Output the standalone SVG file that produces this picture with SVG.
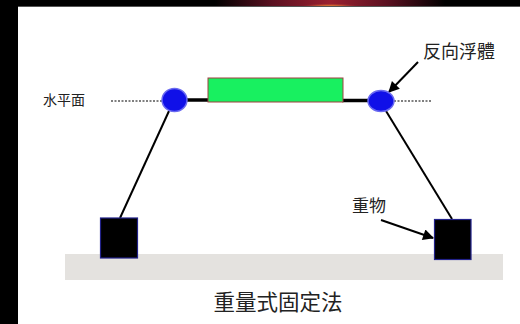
<svg xmlns="http://www.w3.org/2000/svg" width="520" height="324" viewBox="0 0 520 324">
<defs>
<style>
.t{font-family:"Noto Sans CJK TC","Noto Sans CJK SC",sans-serif;fill:#222}
.rope{stroke:#000;stroke-width:2;fill:none}
.bar{stroke:#000;stroke-width:3.5;fill:none}
.dot{stroke:#555;stroke-width:1.5;stroke-dasharray:2 1.5;fill:none}
.float{fill:#1010e8;stroke:#6a6af0;stroke-width:1.5}
.weight{fill:#000;stroke:#22228a;stroke-width:1.2}
.ptr{stroke:#000;stroke-width:2;fill:none;marker-end:url(#ah)}
</style>
<marker id="ah" viewBox="0 0 10 10" refX="9" refY="5" markerWidth="13" markerHeight="11" orient="auto" markerUnits="userSpaceOnUse">
<path d="M0,0 L10,5 L0,10 z" fill="#000"/>
</marker>
<linearGradient id="red" x1="0" y1="0" x2="1" y2="0">
<stop offset="0" stop-color="#000"/>
<stop offset="0.25" stop-color="#5a1020"/>
<stop offset="0.5" stop-color="#9a2030"/>
<stop offset="0.75" stop-color="#5a1020"/>
<stop offset="1" stop-color="#000"/>
</linearGradient>
<radialGradient id="glow" cx="0.5" cy="1" r="0.5">
<stop offset="0" stop-color="#f5a030" stop-opacity="1"/>
<stop offset="0.5" stop-color="#d06030" stop-opacity="0.7"/>
<stop offset="1" stop-color="#9a2030" stop-opacity="0"/>
</radialGradient>
</defs>
<rect x="0" y="0" width="520" height="324" fill="#fff"/>
<rect x="0" y="0" width="18" height="324" fill="#000"/>
<rect x="0" y="0" width="520" height="6.5" fill="#000"/>
<rect x="215" y="0" width="230" height="6.5" fill="url(#red)"/>
<rect x="300" y="0" width="60" height="6.5" fill="url(#glow)"/>
<rect x="18" y="6" width="502" height="1" fill="#555"/>

<g id="ground"><rect x="65" y="254" width="438" height="26" fill="#e4e2df"/></g>

<g id="connectors">
<line class="dot" x1="111" y1="101" x2="162" y2="101"/>
<line class="dot" x1="394" y1="101" x2="431" y2="101"/>
<line class="bar" x1="186" y1="100" x2="209" y2="100"/>
<line class="bar" x1="342" y1="100.5" x2="369" y2="100.5"/>
<line class="rope" x1="169" y1="111" x2="120" y2="218"/>
<line class="rope" x1="386" y1="111" x2="452" y2="219"/>
<line class="ptr" x1="418" y1="62" x2="389" y2="92"/>
<line class="ptr" x1="381" y1="220" x2="433" y2="238"/>
</g>

<g id="buoy"><rect x="208" y="78" width="135" height="24" fill="#18f060" stroke="#a04040" stroke-width="1"/></g>
<g id="float-left"><ellipse class="float" cx="174.5" cy="100" rx="12.5" ry="11.5"/></g>
<g id="float-right"><ellipse class="float" cx="381" cy="101" rx="13" ry="10.5"/></g>
<g id="weight-left"><rect class="weight" x="100.5" y="218" width="37" height="40"/></g>
<g id="weight-right"><rect class="weight" x="434.5" y="219.5" width="36.5" height="40"/></g>

<g id="labels">
<text class="t" x="43" y="105" font-size="14">水平面</text>
<text class="t" x="423" y="58" font-size="18">反向浮體</text>
<text class="t" x="352" y="212" font-size="17">重物</text>
<text class="t" x="278" y="310" font-size="21.5" text-anchor="middle" fill="#333">重量式固定法</text>
</g>
</svg>
